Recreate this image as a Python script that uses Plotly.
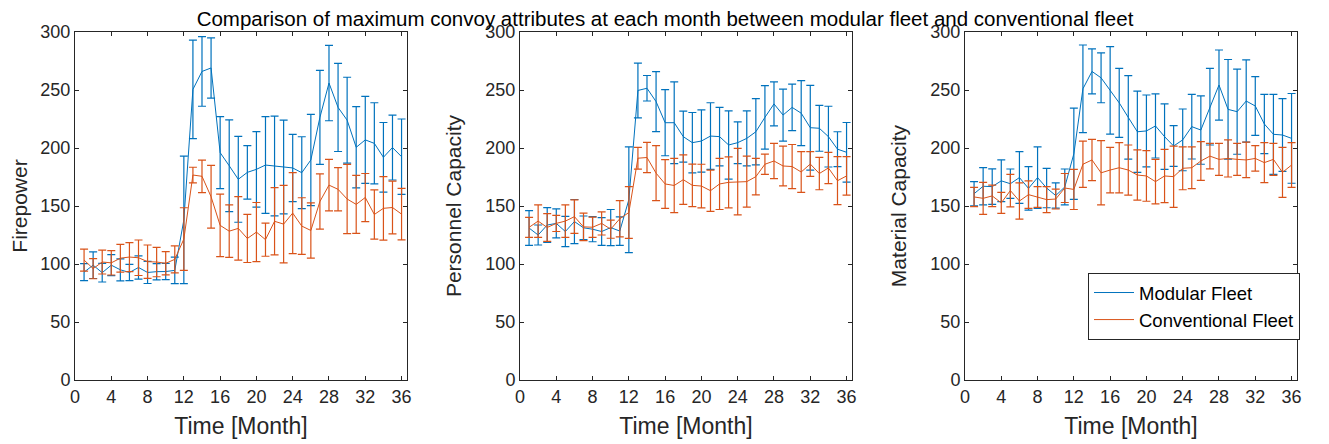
import plotly.graph_objects as go

months = list(range(1, 37))

# Panel 1: Firepower
fp_mod = [93, 99, 92.5, 99, 95, 92.7, 97, 92.7, 93.4, 93.5, 94.5, 138, 250.5, 266, 269, 196, 184.7, 173,
          179, 181.6, 185.3, 184.5, 183.6, 182.8, 178.7, 189.7, 226.4, 256, 235, 224, 200.6, 207, 204, 192, 200.4, 192.5]
fp_mod_err = [7.3, 11.5, 8, 9, 9.5, 7, 10, 9.5, 7, 7, 11.5, 55, 42.5, 30, 26, 31, 39.5, 37,
              23, 32.5, 41.7, 43, 40.4, 29, 31, 39.3, 40.6, 32.5, 38, 37, 35, 37.5, 35, 30, 28, 32.5]
fp_con = [103.4, 96, 101.7, 101, 105, 106, 105.4, 102, 101.7, 100.6, 104, 121.5, 176.7, 175.6, 158, 133.3, 128.3, 130.7,
          122, 127.5, 121, 136.8, 134.4, 143.9, 132.7, 128.9, 153.9, 168, 164.4, 156, 151.4, 157.3, 142.7, 148, 148.7, 143]
fp_con_err = [9.5, 8.7, 10.3, 10.5, 12, 12.5, 15.3, 14.4, 12.7, 10, 11.7, 27, 6.7, 14, 27, 27, 22.6, 27.3,
              20.7, 25.5, 14.3, 29, 33.4, 34.9, 24.4, 23.8, 23.8, 22.2, 18.6, 29.8, 25, 20.7, 21.2, 27.4, 22.8, 22.2]

# Panel 2: Personnel Capacity
pc_mod = [131, 125, 133.6, 135, 128, 136.6, 131.2, 130, 128, 131.4, 128.4, 155.4, 249.6, 251.5, 240, 221.8, 221.8, 209.8,
          204.6, 206, 210.3, 209.8, 202.6, 204.6, 208.3, 214, 226.4, 238, 228.4, 235, 230, 217.5, 217, 209.8, 199, 196.3]
pc_mod_err = [15, 8.6, 15, 12.5, 13, 19, 10.2, 10.8, 12, 15.6, 12.3, 45.6, 23.6, 11, 25.8, 28.5, 35.2, 22,
              26, 26.8, 28.7, 25.2, 29.4, 18, 23.7, 28.5, 27.3, 19, 22.4, 20, 28, 36.5, 19.8, 26.2, 15, 25.7]
pc_con = [131.6, 137, 131.5, 135, 137, 140.8, 132, 131.7, 135, 130, 139, 144.4, 191.2, 191.8, 178.3, 169, 167.7, 172.7,
          167.8, 167.2, 163.2, 169, 170.4, 171, 171, 175.3, 186, 188.8, 184.5, 184, 179.3, 186.2, 178, 182.8, 171.8, 175.9]
pc_con_err = [8.6, 14, 12, 7, 14, 14.4, 11.8, 8.7, 10, 7.8, 15.6, 22.3, 9.4, 13, 23.7, 21, 23.4, 21.3,
              18.3, 18.8, 17.8, 22, 22, 28.7, 22, 15.7, 8.8, 15.2, 17.2, 19, 17.5, 10.6, 14, 13.5, 20.7, 16.6]

# Panel 3: Material Capacity
mc_mod = [160.6, 167, 166.7, 171.7, 169.2, 174.5, 165.2, 174.5, 165.5, 159, 166.4, 195, 251, 266, 260.5, 249.7, 238.9, 226.4,
          214, 214.7, 219, 209.8, 201.7, 207, 218.4, 215.5, 235.6, 254.3, 233.3, 231.3, 240.5, 236.2, 220.7, 211.8, 211.2, 208.3]
mc_mod_err = [10.4, 16, 15.3, 18, 12.7, 22.3, 18.7, 26.5, 17, 10.9, 15.5, 39.3, 37.8, 19.4, 21.5, 37.7, 29.8, 36,
              35, 31, 27.6, 28.2, 17.6, 26.6, 27.9, 29.5, 33, 30.2, 43, 36.7, 35.4, 25.3, 25.6, 34.5, 31.3, 38.7]
mc_con = [157.8, 156.6, 158.7, 152.7, 163.3, 154.3, 159.8, 157.8, 155.5, 156, 165.5, 164.3, 186, 189.7, 178.6, 181, 183, 181,
          176.7, 175.9, 171, 175.9, 175.3, 182.5, 183, 188.8, 193, 190.2, 191, 190.2, 189.7, 191, 187.4, 190.2, 179, 185.3]
mc_con_err = [8.3, 13.8, 9.3, 9, 14, 15.7, 11.8, 8.9, 11.2, 8.6, 12.5, 17.3, 20, 17.8, 27.7, 19.6, 21.7, 21.6,
              21.6, 21.8, 19.2, 23, 26.4, 18.5, 18, 16.7, 11, 13.8, 16, 13.8, 15.3, 11, 17.2, 13.8, 21.6, 19.3]

y_titles = ["Firepower", "Personnel Capacity", "Material Capacity"]
x_ticks = list(range(0, 37, 4))
y_ticks = list(range(0, 301, 50))

BLUE = "#0072BD"
ORANGE = "#D95319"
FONT = "Liberation Sans, Arial, Helvetica, sans-serif"
AX = "#262626"

panels = [(fp_mod, fp_mod_err, fp_con, fp_con_err),
          (pc_mod, pc_mod_err, pc_con, pc_con_err),
          (mc_mod, mc_mod_err, mc_con, mc_con_err)]

fig = go.Figure()
for i, (m, me, c, ce) in enumerate(panels):
    sfx = "" if i == 0 else str(i + 1)
    fig.add_trace(go.Scatter(
        x=months, y=m, mode="lines", name="Modular Fleet",
        line=dict(color=BLUE, width=1),
        error_y=dict(type="data", array=me, visible=True, color=BLUE, thickness=1.2, width=4),
        xaxis="x" + sfx, yaxis="y" + sfx, showlegend=(i == 2)))
    fig.add_trace(go.Scatter(
        x=months, y=c, mode="lines", name="Conventional Fleet",
        line=dict(color=ORANGE, width=1),
        error_y=dict(type="data", array=ce, visible=True, color=ORANGE, thickness=1.2, width=4),
        xaxis="x" + sfx, yaxis="y" + sfx, showlegend=(i == 2)))

# page has an 8px body margin: figure occupies screen px 8..1329 / 8..444
OFF = 8
W, H = 1329 - OFF, 444 - OFF
x_doms = [(75, 407), (520, 852), (965, 1297)]
y_dom = [1 - (380 - OFF) / H, 1 - (32 - OFF) / H]

layout = dict(
    width=W, height=H,
    margin=dict(l=0, r=0, t=0, b=0, autoexpand=False),
    paper_bgcolor="white", plot_bgcolor="white",
    font=dict(family=FONT, size=18, color=AX),
    title=dict(text="Comparison of maximum convoy attributes at each month between modular fleet and conventional fleet",
               x=(665 - OFF) / W, xanchor="center", y=1 - (19 - OFF) / H, yanchor="middle",
               font=dict(family=FONT, size=20.5, color="black")),
    legend=dict(x=(1088 - OFF) / W, y=1 - (273 - OFF) / H, xanchor="left", yanchor="top",
                bordercolor="#262626", borderwidth=1, bgcolor="white",
                font=dict(family=FONT, size=18.5, color="black"),
                tracegroupgap=0, itemwidth=40),
)
for i, (x0, x1) in enumerate(x_doms):
    sfx = "" if i == 0 else str(i + 1)
    layout["xaxis" + sfx] = dict(
        domain=[(x0 - OFF) / W, (x1 - OFF) / W], range=[0, 36.6], anchor="y" + sfx, automargin=False,
        tickvals=x_ticks, ticks="inside", ticklen=4, tickcolor=AX,
        showline=True, linecolor=AX, linewidth=1, mirror="ticks",
        showgrid=False, zeroline=False,
        tickfont=dict(family=FONT, size=18, color=AX),
        title=dict(text="Time [Month]", font=dict(family=FONT, size=23, color=AX), standoff=12))
    layout["yaxis" + sfx] = dict(
        domain=y_dom, range=[0, 300], anchor="x" + sfx, automargin=False,
        tickvals=y_ticks, ticks="inside", ticklen=4, tickcolor=AX,
        showline=True, linecolor=AX, linewidth=1, mirror="ticks",
        showgrid=False, zeroline=False,
        tickfont=dict(family=FONT, size=18, color=AX),
        title=dict(text=y_titles[i], font=dict(family=FONT, size=21, color=AX), standoff=18))

fig.update_layout(**layout)
fig.write_html("out.html")
